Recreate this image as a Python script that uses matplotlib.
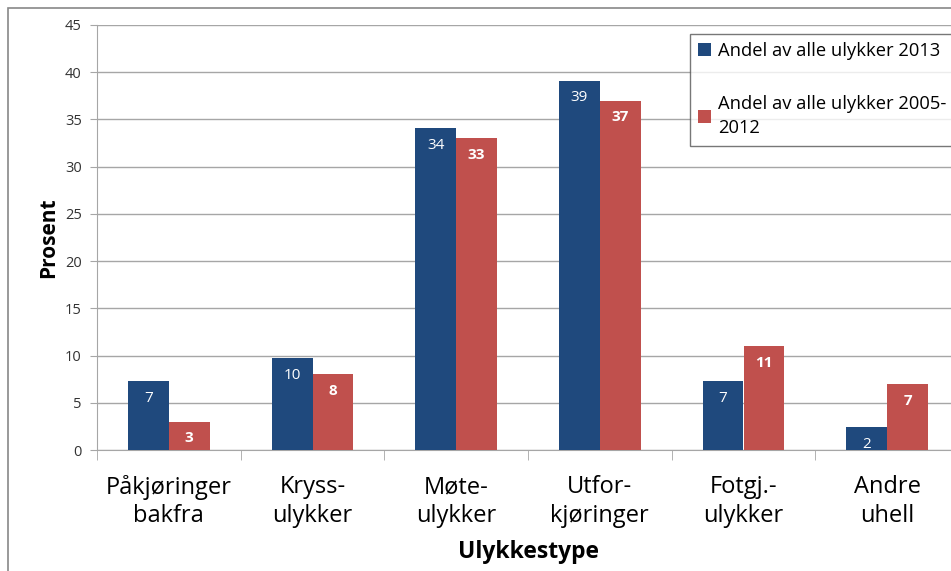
import numpy as np
import matplotlib
matplotlib.use('Agg')
import matplotlib.pyplot as plt
from matplotlib.patches import Rectangle

# Data
kategorier = ['Påkjøringer\nbakfra', 'Kryss-\nulykker', 'Møte-\nulykker',
              'Utfor-\nkjøringer', 'Fotgj.-\nulykker', 'Andre\nuhell']
andel_2013 = [7.3, 9.7, 34.1, 39.1, 7.3, 2.4]
andel_2005_2012 = [3.0, 8.0, 33.0, 37.0, 11.0, 7.0]
serie_navn = ['Andel av alle ulykker 2013', 'Andel av alle ulykker 2005-\n2012']
y_ticks = [0, 5, 10, 15, 20, 25, 30, 35, 40, 45]

blaa = '#1F497D'
rod = '#C0504D'

plt.rcParams['font.family'] = ['Open Sans', 'DejaVu Sans']

fig = plt.figure(figsize=(9.51, 5.71), dpi=100)
W, H = 951, 571
# Plot area in pixel coords: left 97, right 959 (clipped), top 25, bottom 450
ax = fig.add_axes([97 / W, 1 - 450 / H, (959 - 97) / W, (450 - 25) / H])

x = np.arange(len(kategorier))
w = 0.285
b1 = ax.bar(x - w / 2, andel_2013, w, color=blaa, label=serie_navn[0], zorder=3)
b2 = ax.bar(x + w / 2, andel_2005_2012, w, color=rod, label=serie_navn[1], zorder=3)

# Verdier inne i stolpene
for bars, vekt in [(b1, 'normal'), (b2, 'bold')]:
    for r in bars:
        h = r.get_height()
        ax.annotate('%.0f' % h, (r.get_x() + r.get_width() / 2, h),
                    xytext=(0, -7), textcoords='offset points',
                    ha='center', va='top', color='white', fontsize=11,
                    fontweight=vekt, zorder=4)

ax.set_ylim(0, 45)
ax.set_xlim(-0.5, len(kategorier) - 0.5)
ax.set_yticks(y_ticks)
ax.yaxis.grid(True, color='#a6a6a6', linewidth=1, zorder=0)
ax.tick_params(axis='y', labelsize=10.5, length=5, color='#a6a6a6', labelcolor='#333333', pad=6)

ax.set_xticks(x)
ax.set_xticklabels(kategorier, fontsize=17, linespacing=1.25)
ax.set_xticks(np.arange(len(kategorier) + 1) - 0.5, minor=True)
ax.tick_params(axis='x', which='major', length=0, pad=18)
ax.tick_params(axis='x', which='minor', length=7, color='#a6a6a6')

for s in ['top', 'right']:
    ax.spines[s].set_visible(False)
ax.spines['left'].set_color('#a6a6a6')
ax.spines['bottom'].set_color('#a6a6a6')

ax.set_ylabel('Prosent', fontsize=15, fontweight='bold', labelpad=4)
ax.set_xlabel('Ulykkestype', fontsize=16.5, fontweight='bold', labelpad=8)

leg = fig.legend(loc='upper left', bbox_to_anchor=(690 / W, 1 - 34 / H),
                 fontsize=13.2, frameon=True, fancybox=False, handlelength=0.7,
                 handleheight=0.7, handletextpad=0.4, labelspacing=1.9,
                 borderpad=0.45, borderaxespad=0)
for t in leg.get_texts():
    t.set_linespacing(1.45)
leg.get_frame().set_edgecolor('#555555')
leg.get_frame().set_linewidth(1)

# Ramme rundt diagramomraadet
fig.patches.append(Rectangle((8 / W, -0.1), 1.2, 1 - 8 / H + 0.1,
                             transform=fig.transFigure, fill=False,
                             edgecolor='#888888', linewidth=1.2, zorder=0))

fig.savefig('out.png', dpi=100)
